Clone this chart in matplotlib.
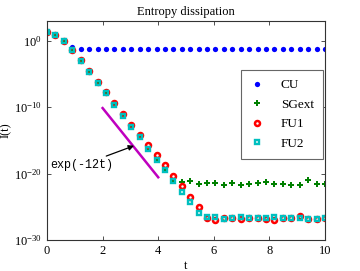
import numpy as np
import matplotlib
matplotlib.use('Agg')
import matplotlib.pyplot as plt

plt.rcParams['font.family'] = ['Liberation Serif', 'DejaVu Serif']
plt.rcParams['mathtext.fontset'] = 'stix'

# time grid: 34 samples on [0, 10]
t = np.linspace(0, 10, 34)

# log10 of I(t)
cu_log = [1.3, 0.9, -0.05, -0.9] + [-1.25] * 30
fu2_log = [1.3, 0.9, -0.05, -1.4, -3.1, -4.75, -6.35, -7.9, -9.65, -11.3,
           -13.0, -14.55, -16.25, -17.9, -19.5, -21.15, -22.75, -24.25, -25.9,
           -26.59, -26.49, -26.84, -26.74, -26.49, -26.74, -26.74, -26.74,
           -26.59, -26.74, -26.74, -26.74, -26.79, -26.79, -26.69]
fu1_log = [1.33, 0.93, -0.02, -1.3, -2.95, -4.55, -6.15, -7.7, -9.4, -11.0,
           -12.65, -14.15, -15.75, -17.25, -18.75, -20.3, -21.9, -23.45, -25.1,
           -26.64, -26.99, -26.74, -26.74, -26.89, -26.74, -26.74, -26.79,
           -26.99, -26.74, -26.74, -26.39, -26.89, -26.84, -26.74]
sg_log = fu2_log[:16] + [-21.24, -21.09, -21.49, -21.44, -21.34, -21.64,
                         -21.39, -21.64, -21.49, -21.39, -21.24, -21.49,
                         -21.49, -21.64, -21.64, -21.0, -21.49, -21.54]

cu = 10.0 ** np.array(cu_log)
sg = 10.0 ** np.array(sg_log)
fu1 = 10.0 ** np.array(fu1_log)
fu2 = 10.0 ** np.array(fu2_log)

# reference slope line 2*exp(-12t) on [2, 4]
t_ref = np.linspace(2, 4, 50)
ref = 2.0 * np.exp(-12 * t_ref)

fig = plt.figure(figsize=(3.6, 2.71), dpi=100)
ax = fig.add_axes([0.1306, 0.1144, 0.7722, 0.8081])

ax.semilogy(t, cu, 'o', color='b', ms=3.8, mew=0, label='CU')
ax.semilogy(t, sg, 'P', color='g', ms=4.5, mew=0, label='SGext')
ax.semilogy(t, fu1, 'o', mfc='none', mec='r', ms=3.6, mew=1.8, label='FU1')
ax.semilogy(t, fu2, 's', mfc='none', mec='c', ms=3.4, mew=1.7, label='FU2')
ax.semilogy(t_ref, ref, '-', color='m', lw=1.8)

ax.annotate('exp(-12t)', xy=(3.13, 10 ** -15.8), xytext=(0.1, 10 ** -18.75),
            fontsize=8.5, family='Liberation Mono', va='center', ha='left',
            arrowprops=dict(arrowstyle='-|>', color='k', lw=0.9,
                            mutation_scale=8, shrinkA=1, shrinkB=0))

ax.set_xlim(0, 10)
ax.set_ylim(1e-30, 1e3)
ax.set_xticks([0, 2, 4, 6, 8, 10])
ax.set_yticks([1e0, 1e-10, 1e-20, 1e-30])
ax.minorticks_off()
ax.tick_params(direction='in', top=True, right=True, length=3,
               labelsize=9, width=0.6, colors='#333333', labelcolor='k')
for s in ax.spines.values():
    s.set_linewidth(0.8)
    s.set_color('#333333')

ax.set_title('Entropy dissipation', fontsize=9, pad=4)
ax.set_xlabel('t', fontsize=9, labelpad=2)
ax.set_ylabel('I(t)', fontsize=9, labelpad=2)

leg = ax.legend(loc='upper right', bbox_to_anchor=(0.993, 0.777), numpoints=1,
                fontsize=9.5, fancybox=False, framealpha=1, edgecolor='#666666',
                borderaxespad=0, borderpad=0.7, labelspacing=0.55,
                handlelength=1.0, handletextpad=1.3)
leg.get_frame().set_linewidth(0.8)

fig.savefig('out.png', dpi=100)
